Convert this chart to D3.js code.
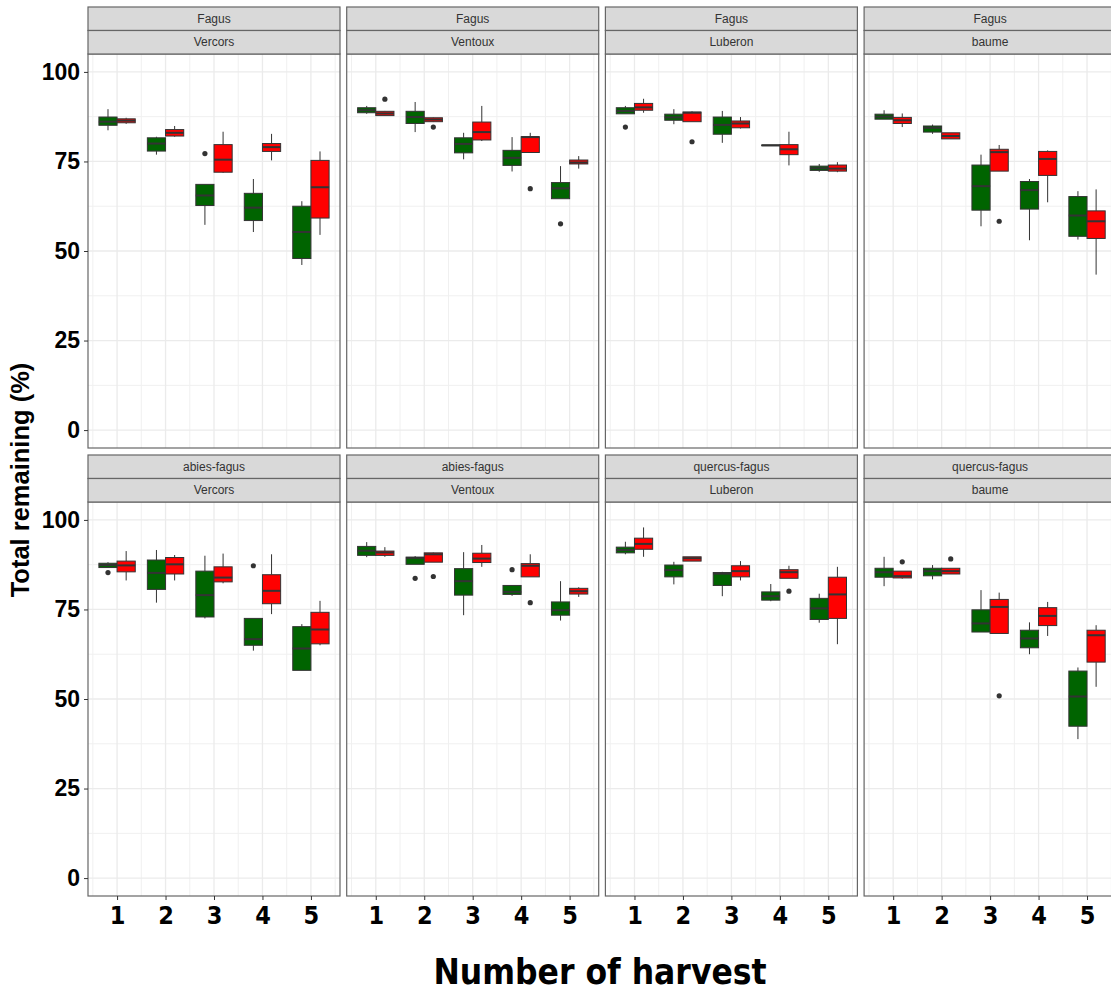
<!DOCTYPE html>
<html>
<head>
<meta charset="utf-8">
<script src="https://cdn.jsdelivr.net/npm/d3@7"></script>
<style>
  body { margin: 0; background: #fff; }
  .strip-text { font-family: "Liberation Sans", Arial, sans-serif; font-size: 12px; fill: #333; }
  .y-tick text { font-family: "Liberation Sans", Arial, sans-serif; font-weight: bold; font-size: 23px; fill: #000; }
  .x-tick text { font-family: "Liberation Sans Narrow", "Arial Narrow", "DejaVu Sans Condensed", sans-serif; font-weight: bold; font-size: 25px; fill: #000; }
</style>
</head>
<body>
<div id="chart"></div>
<script>
// facet labels
const species = ["Fagus", "Fagus", "Fagus", "Fagus", "abies-fagus", "abies-fagus", "quercus-fagus", "quercus-fagus"];
const sites = ["Vercors", "Ventoux", "Luberon", "baume", "Vercors", "Ventoux", "Luberon", "baume"];
const harvests = [1, 2, 3, 4, 5];
const yTicks = [0, 25, 50, 75, 100];
const yMinor = [12.5, 37.5, 62.5, 87.5];
const xMinor = [0.5, 1.5, 2.5, 3.5, 4.5, 5.5];

// box stats: [harvest, group (0 = green, 1 = red), low whisker, q1, median, q3, high whisker]
const fagusVercors = [
  [1, 0, 83.7, 85.1, 86.1, 87.4, 89.6], [1, 1, 85.5, 85.8, 86.4, 86.9, 87.2],
  [2, 0, 76.9, 77.9, 80.0, 81.6, 81.9], [2, 1, 81.9, 82.1, 83.0, 83.9, 84.9],
  [3, 0, 57.3, 62.7, 65.5, 68.6, 68.6], [3, 1, 71.8, 72.0, 75.5, 79.7, 83.3],
  [4, 0, 55.3, 58.5, 62.1, 66.1, 70.1], [4, 1, 75.3, 77.8, 79.0, 80.0, 82.7],
  [5, 0, 46.1, 47.9, 55.3, 62.5, 63.9], [5, 1, 54.5, 59.2, 67.8, 75.3, 77.8]
];
const fagusVentoux = [
  [1, 0, 88.3, 88.6, 89.3, 90.0, 90.5], [1, 1, 87.7, 87.8, 88.4, 89.0, 89.1],
  [2, 0, 83.2, 85.6, 87.4, 89.0, 91.6], [2, 1, 86.0, 86.1, 86.7, 87.2, 87.3],
  [3, 0, 75.6, 77.4, 79.9, 81.6, 83.0], [3, 1, 80.7, 81.0, 83.2, 86.0, 90.5],
  [4, 0, 72.2, 73.9, 76.0, 78.1, 81.8], [4, 1, 77.5, 77.5, 81.8, 81.9, 83.0],
  [5, 0, 64.6, 64.6, 67.5, 69.1, 73.7], [5, 1, 73.0, 74.3, 74.7, 75.4, 76.5]
];
const fagusLuberon = [
  [1, 0, 88.3, 88.3, 89.1, 90.0, 90.5], [1, 1, 88.6, 89.3, 90.1, 91.2, 92.5],
  [2, 0, 85.4, 86.5, 87.3, 88.2, 89.6], [2, 1, 86.1, 86.1, 88.6, 88.8, 89.0],
  [3, 0, 80.2, 82.6, 85.2, 87.4, 89.1], [3, 1, 84.2, 84.4, 85.6, 86.3, 87.4],
  [4, 0, 79.4, 79.4, 79.5, 79.6, 79.6], [4, 1, 73.9, 76.9, 78.4, 79.7, 83.3],
  [5, 0, 72.1, 72.5, 73.1, 73.7, 74.3], [5, 1, 72.0, 72.3, 73.0, 74.0, 74.8]
];
const fagusBaume = [
  [1, 0, 86.8, 86.8, 87.5, 88.2, 89.3], [1, 1, 84.6, 85.6, 86.5, 87.3, 88.4],
  [2, 0, 82.7, 83.2, 84.4, 84.9, 85.3], [2, 1, 81.3, 81.3, 82.1, 83.0, 83.0],
  [3, 0, 56.9, 61.4, 68.1, 74.0, 76.9], [3, 1, 72.3, 72.3, 77.6, 78.4, 79.6],
  [4, 0, 53.0, 61.7, 67.0, 69.4, 70.1], [4, 1, 63.6, 71.1, 75.7, 77.8, 78.1],
  [5, 0, 53.2, 54.1, 59.9, 65.2, 66.7], [5, 1, 43.4, 53.5, 58.3, 61.2, 67.2]
];
const abiesVercors = [
  [1, 0, 86.7, 86.7, 87.4, 87.9, 88.2], [1, 1, 83.1, 85.5, 87.3, 88.5, 91.3],
  [2, 0, 76.9, 80.6, 85.2, 88.8, 91.6], [2, 1, 83.1, 84.9, 87.6, 89.5, 90.2],
  [3, 0, 72.5, 72.9, 79.0, 85.7, 90.0], [3, 1, 82.3, 82.7, 83.9, 86.9, 90.6],
  [4, 0, 63.5, 65.0, 66.7, 72.5, 72.5], [4, 1, 73.7, 76.6, 80.2, 84.7, 90.4],
  [5, 0, 58.0, 58.0, 64.1, 70.2, 70.9], [5, 1, 65.0, 65.4, 69.4, 74.2, 77.4]
];
const abiesVentoux = [
  [1, 0, 89.6, 90.1, 91.4, 92.6, 93.8], [1, 1, 89.7, 90.1, 90.9, 91.3, 92.4],
  [2, 0, 87.6, 87.6, 89.4, 89.6, 89.9], [2, 1, 88.2, 88.2, 90.4, 90.8, 90.9],
  [3, 0, 73.4, 79.0, 82.9, 86.4, 91.0], [3, 1, 86.9, 88.1, 89.2, 90.7, 93.0],
  [4, 0, 78.8, 79.2, 79.9, 81.7, 81.7], [4, 1, 84.1, 84.1, 87.2, 87.8, 90.4],
  [5, 0, 71.9, 73.4, 74.8, 77.1, 82.9], [5, 1, 78.5, 79.3, 80.1, 80.9, 81.2]
];
const quercusLuberon = [
  [1, 0, 90.4, 90.8, 91.6, 92.4, 93.9], [1, 1, 89.7, 91.8, 93.3, 94.9, 97.9],
  [2, 0, 82.0, 84.1, 86.0, 87.4, 88.3], [2, 1, 88.5, 88.5, 89.3, 89.7, 89.7],
  [3, 0, 78.7, 81.7, 85.0, 85.3, 85.5], [3, 1, 83.1, 84.1, 85.7, 87.2, 88.5],
  [4, 0, 77.3, 77.6, 78.7, 79.9, 82.1], [4, 1, 83.7, 83.7, 85.4, 86.1, 87.2],
  [5, 0, 71.3, 72.2, 75.3, 78.1, 79.4], [5, 1, 65.3, 72.5, 79.2, 84.0, 86.9]
];
const quercusBaume = [
  [1, 0, 81.5, 84.0, 85.4, 86.5, 89.7], [1, 1, 83.6, 83.8, 84.3, 85.7, 85.7],
  [2, 0, 83.4, 84.4, 85.7, 86.5, 87.4], [2, 1, 84.9, 84.9, 85.7, 86.5, 86.5],
  [3, 0, 68.7, 68.7, 71.1, 74.9, 80.4], [3, 1, 68.3, 68.3, 75.7, 77.8, 79.7],
  [4, 0, 62.5, 64.3, 66.9, 69.2, 71.4], [4, 1, 67.6, 70.5, 73.2, 75.5, 77.1],
  [5, 0, 38.8, 42.4, 50.7, 57.8, 58.8], [5, 1, 53.4, 60.3, 67.8, 69.2, 70.6]
];

// outliers: [harvest, group, value]
const fagusVercorsOut = [[3, 0, 77.2]];
const fagusVentouxOut = [[1, 1, 92.4], [2, 1, 84.6], [4, 1, 67.4], [5, 0, 57.6]];
const fagusLuberonOut = [[1, 0, 84.6], [2, 1, 80.5]];
const fagusBaumeOut = [[3, 1, 58.3]];
const abiesVercorsOut = [[1, 0, 85.3], [4, 0, 87.2]];
const abiesVentouxOut = [[2, 0, 83.7], [2, 1, 84.2], [4, 0, 86.1], [4, 1, 76.9]];
const quercusLuberonOut = [[4, 1, 80.1]];
const quercusBaumeOut = [[1, 1, 88.3], [2, 1, 89.1], [3, 1, 50.9]];

const panelStats = [fagusVercors, fagusVentoux, fagusLuberon, fagusBaume,
                    abiesVercors, abiesVentoux, quercusLuberon, quercusBaume];
const panelOut = [fagusVercorsOut, fagusVentouxOut, fagusLuberonOut, fagusBaumeOut,
                  abiesVercorsOut, abiesVentouxOut, quercusLuberonOut, quercusBaumeOut];

const fills = ["#006400", "#FF0000"];
const dark = "#333333";

const width = 1111, height = 992;
const svg = d3.select("#chart").append("svg")
  .attr("width", width)
  .attr("height", height);

// panel layout
const panelLeft = 88, panelW = 252, panelStep = 258.7;
const stripH = 23.5;
const rowTops = [7, 455];     // top of the first strip
const panelH = 394;
const boxW = 0.375;           // dodged box width in x units

panelStats.forEach((stats, i) => {
  const col = i % 4, row = Math.floor(i / 4);
  const left = panelLeft + col * panelStep;
  const stripTop = rowTops[row];
  const top = stripTop + 2 * stripH;
  const bottom = top + panelH;

  const x = d3.scaleLinear().domain([0.4, 5.6]).range([left, left + panelW]);
  const y = d3.scaleLinear().domain([-5, 105]).range([bottom, top]);

  const g = svg.append("g");

  // panel background + grid
  g.append("rect")
    .attr("x", left).attr("y", top)
    .attr("width", panelW).attr("height", panelH)
    .attr("fill", "#fff");

  g.selectAll(".gy-minor").data(yMinor).enter().append("line")
    .attr("x1", left).attr("x2", left + panelW)
    .attr("y1", d => y(d)).attr("y2", d => y(d))
    .attr("stroke", "#F0F0F0").attr("stroke-width", 1);
  g.selectAll(".gx-minor").data(xMinor).enter().append("line")
    .attr("y1", top).attr("y2", bottom)
    .attr("x1", d => x(d)).attr("x2", d => x(d))
    .attr("stroke", "#F0F0F0").attr("stroke-width", 1);
  g.selectAll(".gy-major").data(yTicks).enter().append("line")
    .attr("x1", left).attr("x2", left + panelW)
    .attr("y1", d => y(d)).attr("y2", d => y(d))
    .attr("stroke", "#EBEBEB").attr("stroke-width", 1.3);
  g.selectAll(".gx-major").data(harvests).enter().append("line")
    .attr("y1", top).attr("y2", bottom)
    .attr("x1", d => x(d)).attr("x2", d => x(d))
    .attr("stroke", "#EBEBEB").attr("stroke-width", 1.3);

  // boxplots
  const cx = d => x(d[0] + (d[1] === 0 ? -boxW / 2 : boxW / 2));
  const halfPx = (x(boxW) - x(0)) / 2;
  const boxes = g.selectAll(".box").data(stats).enter().append("g");

  boxes.append("line")
    .attr("x1", cx).attr("x2", cx)
    .attr("y1", d => y(d[2])).attr("y2", d => y(d[3]))
    .attr("stroke", dark).attr("stroke-width", 1);
  boxes.append("line")
    .attr("x1", cx).attr("x2", cx)
    .attr("y1", d => y(d[5])).attr("y2", d => y(d[6]))
    .attr("stroke", dark).attr("stroke-width", 1);
  boxes.append("rect")
    .attr("x", d => cx(d) - halfPx)
    .attr("width", halfPx * 2)
    .attr("y", d => y(d[5]))
    .attr("height", d => Math.max(0.5, y(d[3]) - y(d[5])))
    .attr("fill", d => fills[d[1]])
    .attr("stroke", dark).attr("stroke-width", 1);
  boxes.append("line")
    .attr("x1", d => cx(d) - halfPx).attr("x2", d => cx(d) + halfPx)
    .attr("y1", d => y(d[4])).attr("y2", d => y(d[4]))
    .attr("stroke", dark).attr("stroke-width", 2);

  g.selectAll(".outlier").data(panelOut[i]).enter().append("circle")
    .attr("cx", cx)
    .attr("cy", d => y(d[2]))
    .attr("r", 2.6)
    .attr("fill", dark);

  // panel border
  g.append("rect")
    .attr("x", left).attr("y", top)
    .attr("width", panelW).attr("height", panelH)
    .attr("fill", "none")
    .attr("stroke", "#666").attr("stroke-width", 1.2);

  // two strips
  [species[i], sites[i]].forEach((label, k) => {
    const sy = stripTop + k * stripH;
    g.append("rect")
      .attr("x", left).attr("y", sy)
      .attr("width", panelW).attr("height", stripH)
      .attr("fill", "#D9D9D9")
      .attr("stroke", "#666").attr("stroke-width", 1.2);
    g.append("text")
      .attr("class", "strip-text")
      .attr("x", left + panelW / 2)
      .attr("y", sy + stripH / 2)
      .attr("dy", "0.35em")
      .attr("text-anchor", "middle")
      .text(label);
  });

  // y axis on the left column
  if (col === 0) {
    const ay = svg.append("g")
      .attr("class", "y-tick")
      .attr("transform", `translate(${left},0)`)
      .call(d3.axisLeft(y).tickValues(yTicks).tickSize(4).tickPadding(4));
    ay.select(".domain").remove();
    ay.selectAll("line").attr("stroke", dark);
  }

  // x axis on the bottom row
  if (row === 1) {
    const ax = svg.append("g")
      .attr("class", "x-tick")
      .attr("transform", `translate(0,${bottom})`)
      .call(d3.axisBottom(x).tickValues(harvests).tickFormat(d3.format("d"))
        .tickSize(4).tickPadding(6));
    ax.select(".domain").remove();
    ax.selectAll("line").attr("stroke", dark);
  }
});

// axis titles
svg.append("text")
  .attr("x", 600)
  .attr("y", 984)
  .attr("text-anchor", "middle")
  .style("font-family", "\"Liberation Sans Narrow\", \"Arial Narrow\", \"DejaVu Sans Condensed\", sans-serif")
  .style("font-weight", "bold")
  .style("font-size", "35px")
  .text("Number of harvest");

svg.append("text")
  .attr("transform", "translate(29,480) rotate(-90)")
  .attr("text-anchor", "middle")
  .style("font-family", "\"Liberation Sans\", Arial, sans-serif")
  .style("font-weight", "bold")
  .style("font-size", "25.5px")
  .text("Total remaining (%)");
</script>
</body>
</html>
